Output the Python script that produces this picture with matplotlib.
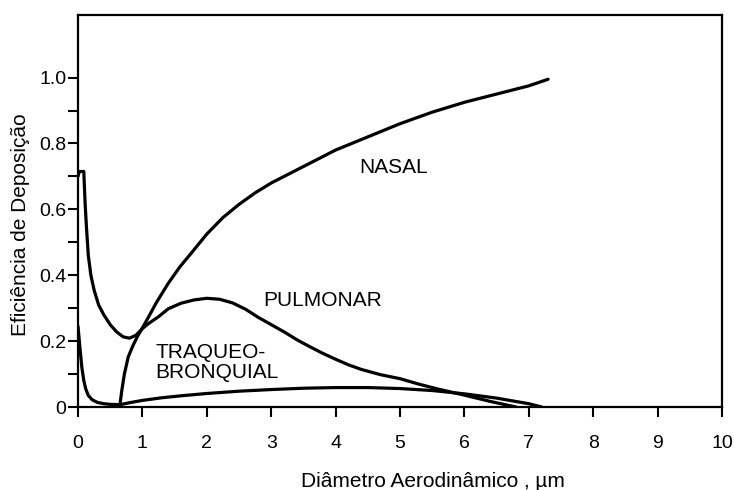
import matplotlib
matplotlib.use("Agg")
import matplotlib.pyplot as plt
from matplotlib.ticker import FixedLocator

plt.rcParams['font.family'] = ['Liberation Sans', 'DejaVu Sans']

# curves (diameter in um, deposition efficiency)
nasal_x = [0.65, 0.68, 0.72, 0.78, 0.85, 0.92, 1.0, 1.1, 1.22, 1.4, 1.58, 1.75, 2.0, 2.25,
           2.5, 2.75, 3.0, 3.25, 3.5, 3.75, 4.0, 4.5, 5.0, 5.5, 6.0, 6.5, 7.0, 7.3]
nasal_y = [0.005, 0.05, 0.10, 0.152, 0.185, 0.213, 0.24, 0.275, 0.318, 0.375, 0.425, 0.465, 0.525, 0.575,
           0.615, 0.65, 0.68, 0.705, 0.73, 0.755, 0.78, 0.82, 0.86, 0.895, 0.925, 0.95, 0.975, 0.995]

pulm_x = [0.0, 0.02, 0.09, 0.11, 0.13, 0.16, 0.2, 0.25, 0.32, 0.4, 0.5, 0.6, 0.7, 0.8, 0.9, 1.0,
          1.1, 1.25, 1.4, 1.6, 1.8, 2.0, 2.2, 2.4, 2.6, 2.8, 3.0, 3.2, 3.4, 3.6, 3.8, 4.0, 4.2,
          4.4, 4.7, 5.0, 5.3, 5.6, 6.0, 6.4, 6.8]
pulm_y = [0.70, 0.715, 0.715, 0.62, 0.55, 0.46, 0.40, 0.355, 0.31, 0.28, 0.25, 0.228, 0.213, 0.209,
          0.218, 0.238, 0.254, 0.274, 0.298, 0.315, 0.325, 0.33, 0.327, 0.316, 0.297, 0.272, 0.25,
          0.228, 0.204, 0.183, 0.163, 0.145, 0.128, 0.114, 0.098, 0.086, 0.069, 0.054, 0.036, 0.017, 0.0]

tb_x = [0.0, 0.03, 0.06, 0.09, 0.12, 0.16, 0.22, 0.3, 0.4, 0.5, 0.65, 0.8, 1.0, 1.3, 1.6, 2.0,
        2.5, 3.0, 3.5, 4.0, 4.5, 5.0, 5.5, 6.0, 6.5, 7.0, 7.2]
tb_y = [0.245, 0.18, 0.12, 0.08, 0.055, 0.035, 0.022, 0.014, 0.01, 0.008, 0.007, 0.013, 0.02, 0.028,
        0.034, 0.041, 0.048, 0.053, 0.057, 0.059, 0.059, 0.056, 0.05, 0.04, 0.027, 0.01, 0.0]

xticks = [0, 1, 2, 3, 4, 5, 6, 7, 8, 9, 10]
yticks = [0, 0.2, 0.4, 0.6, 0.8, 1.0]
ylabels = ['0', '0.2', '0.4', '0.6', '0.8', '1.0']

fig = plt.figure(figsize=(7.34, 4.9), dpi=100)
ax = fig.add_axes([78 / 734, 83 / 490, 644 / 734, 392 / 490])

for xs, ys in [(nasal_x, nasal_y), (pulm_x, pulm_y), (tb_x, tb_y)]:
    ax.plot(xs, ys, color='black', lw=2.3, solid_capstyle='round', solid_joinstyle='round')

ax.set_xlim(0, 10)
ax.set_ylim(0, 1.19)
ax.set_xticks(xticks)
ax.set_yticks(yticks)
ax.set_yticklabels(ylabels)
ax.yaxis.set_minor_locator(FixedLocator([0.1, 0.3, 0.5, 0.7, 0.9]))
ax.tick_params(which='both', direction='out', length=7, width=1.5, labelsize=14)
ax.tick_params(axis='x', pad=13)
ax.tick_params(axis='y', which='both', pad=1.5)
for s in ax.spines.values():
    s.set_linewidth(1.6)

ax.text(4.9, 0.726, 'NASAL', fontsize=15, ha='center', va='center')
ax.text(3.8, 0.323, 'PULMONAR', fontsize=15, ha='center', va='center')
ax.text(1.2, 0.135, 'TRAQUEO-\nBRONQUIAL', fontsize=15, ha='left', va='center', linespacing=1.1)

ax.set_xlabel('Diâmetro Aerodinâmico , µm', fontsize=15)
ax.xaxis.label.set_va('baseline')
ax.xaxis.set_label_coords(0.551, -0.204)
ax.set_ylabel('Eficiência de Deposição', fontsize=15)
ax.yaxis.label.set_va('center')
ax.yaxis.set_label_coords(-0.09, 0.464)

fig.savefig('out.png', dpi=100)
